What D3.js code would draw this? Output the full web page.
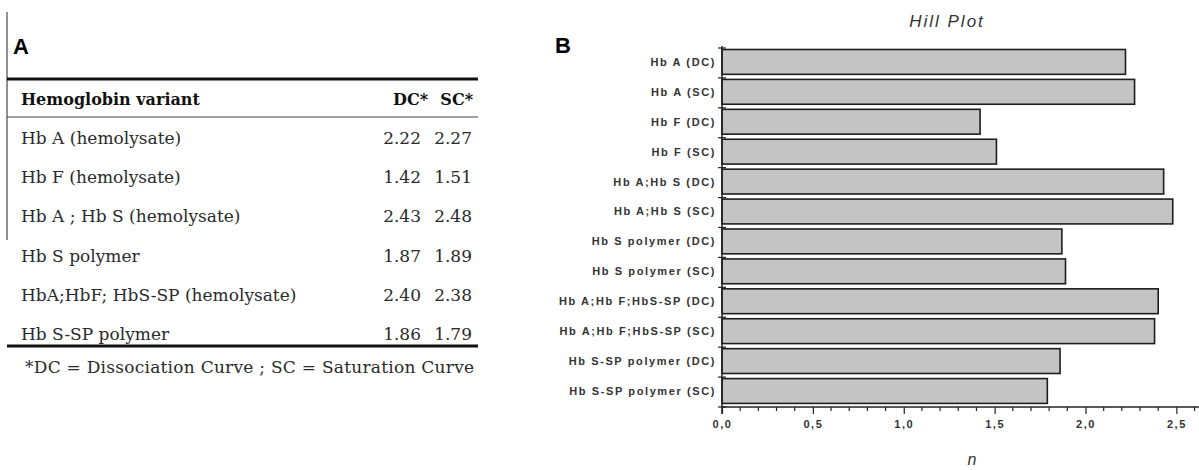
<!DOCTYPE html>
<html>
  <head>
    <title>Hill Plot</title>
    <script src="https://cdn.jsdelivr.net/npm/d3@7/dist/d3.min.js"></script>
    <style>
      body { margin: 0; background: #fff; }
    </style>
  </head>
  <body>
    <svg width="1199" height="470" id="mainsvg"></svg>
    <script>
    // table A
    const variants = ['Hb A (hemolysate)', 'Hb F (hemolysate)', 'Hb A ; Hb S (hemolysate)',
      'Hb S polymer', 'HbA;HbF; HbS-SP (hemolysate)', 'Hb S-SP polymer'];
    const dc = [2.22, 1.42, 2.43, 1.87, 2.40, 1.86];
    const sc = [2.27, 1.51, 2.48, 1.89, 2.38, 1.79];
    // chart B
    const barNames = ['Hb A', 'Hb F', 'Hb A;Hb S', 'Hb S polymer', 'Hb A;Hb F;HbS-SP', 'Hb S-SP polymer'];
    const xTicks = [0, 0.5, 1.0, 1.5, 2.0, 2.5];

    let svg = d3.select('#mainsvg');
    const serif = 'DejaVu Serif';
    const sans = 'Liberation Sans, Arial';

    // ---------- panel A ----------
    svg.append('line').attr('x1', 7).attr('x2', 7).attr('y1', 12).attr('y2', 240)
      .attr('stroke', '#222').attr('stroke-width', 1);
    svg.append('text').attr('x', 13).attr('y', 54).text('A')
      .attr('font-family', sans).attr('font-weight', 'bold').attr('font-size', 22);

    const tx0 = 7, tx1 = 478;
    svg.append('line').attr('x1', tx0).attr('x2', tx1).attr('y1', 79).attr('y2', 79)
      .attr('stroke', '#111').attr('stroke-width', 3);
    svg.append('line').attr('x1', tx0).attr('x2', tx1).attr('y1', 117).attr('y2', 117)
      .attr('stroke', '#444').attr('stroke-width', 1);
    svg.append('line').attr('x1', tx0).attr('x2', tx1).attr('y1', 346).attr('y2', 346)
      .attr('stroke', '#111').attr('stroke-width', 3);

    const head = svg.append('g').attr('font-family', serif).attr('font-weight', 'bold')
      .attr('font-size', 16).attr('fill', '#111');
    head.append('text').attr('x', 21).attr('y', 105).text('Hemoglobin variant');
    head.append('text').attr('x', 428).attr('y', 105).attr('text-anchor', 'end').text('DC*');
    head.append('text').attr('x', 473).attr('y', 105).attr('text-anchor', 'end').text('SC*');

    const rowY = d3.scaleLinear().domain([0, variants.length - 1]).range([144, 340]);
    const rows = svg.append('g').attr('font-family', serif).attr('font-size', 17).attr('fill', '#2a2a2a')
      .selectAll('g').data(variants).join('g')
      .attr('transform', (d, i) => `translate(0,${rowY(i)})`);
    rows.append('text').attr('x', 21).text(d => d);
    rows.append('text').attr('x', 421).attr('text-anchor', 'end').text((d, i) => dc[i].toFixed(2));
    rows.append('text').attr('x', 472).attr('text-anchor', 'end').text((d, i) => sc[i].toFixed(2));

    svg.append('text').attr('x', 25).attr('y', 373)
      .attr('font-family', serif).attr('font-size', 17).attr('letter-spacing', 0.25).attr('fill', '#2a2a2a')
      .text('*DC = Dissociation Curve ; SC = Saturation Curve');

    // ---------- panel B ----------
    svg.append('text').attr('x', 555).attr('y', 53).text('B')
      .attr('font-family', sans).attr('font-weight', 'bold').attr('font-size', 22);

    const bars = [];
    barNames.forEach((n, i) => {
      bars.push({ label: n + ' (DC)', value: dc[i] });
      bars.push({ label: n + ' (SC)', value: sc[i] });
    });

    const x = d3.scaleLinear().domain([0, 2.63]).range([722, 1200]);
    const y = d3.scaleBand().domain(bars.map(d => d.label)).range([48, 407]).padding(0);
    const step = y.step();

    svg.append('text').attr('x', 947).attr('y', 27).attr('text-anchor', 'middle')
      .attr('font-family', sans).attr('font-style', 'italic').attr('font-size', 17)
      .attr('letter-spacing', 2).attr('fill', '#333').text('Hill Plot');

    svg.append('g').selectAll('rect').data(bars).join('rect')
      .attr('x', x(0))
      .attr('y', d => y(d.label) + step * 0.05)
      .attr('width', d => x(d.value) - x(0))
      .attr('height', step * 0.83)
      .attr('fill', '#c4c4c4')
      .attr('stroke', '#1e1e1e')
      .attr('stroke-width', 1.6);

    // y labels
    svg.append('g').attr('font-family', sans).attr('font-weight', 'bold').attr('font-size', 11)
      .attr('letter-spacing', 1.6).attr('fill', '#333')
      .selectAll('text').data(bars).join('text')
      .attr('x', 716).attr('y', d => y(d.label) + step * 0.47)
      .attr('dy', '0.35em').attr('text-anchor', 'end')
      .text(d => d.label);

    // y axis with band ticks
    svg.append('line').attr('x1', 722).attr('x2', 722).attr('y1', 46).attr('y2', 414)
      .attr('stroke', '#222').attr('stroke-width', 1.5);
    const bounds = bars.map(d => y(d.label)).concat([407]);
    svg.append('g').selectAll('line').data(bounds).join('line')
      .attr('x1', 718).attr('x2', 726).attr('y1', d => d).attr('y2', d => d)
      .attr('stroke', '#222').attr('stroke-width', 1.2);

    // x axis
    const xAxis = d3.axisBottom(x).tickValues(xTicks).tickSize(7).tickPadding(6)
      .tickFormat(d => d3.format('.1f')(d).replace('.', ','));
    const gx = svg.append('g').attr('transform', 'translate(0,407)').call(xAxis);
    gx.select('.domain').attr('stroke', '#222').attr('stroke-width', 1.5).attr('d', 'M722,0H1199');
    gx.selectAll('.tick line').attr('stroke', '#222').attr('stroke-width', 1.2);
    gx.selectAll('.tick text').attr('font-family', sans).attr('font-weight', 'bold')
      .attr('font-size', 11).attr('letter-spacing', 1.5).attr('fill', '#333');
    const minor = d3.range(0, 2.61, 0.1).filter(v => Math.abs(v * 2 - Math.round(v * 2)) > 0.01);
    svg.append('g').selectAll('line').data(minor).join('line')
      .attr('x1', d => x(d)).attr('x2', d => x(d)).attr('y1', 407).attr('y2', 411)
      .attr('stroke', '#222').attr('stroke-width', 1.2);

    svg.append('text').attr('x', 972).attr('y', 465).attr('text-anchor', 'middle')
      .attr('font-family', sans).attr('font-style', 'italic').attr('font-size', 16)
      .attr('fill', '#333').text('n');
    </script>
  </body>
</html>
